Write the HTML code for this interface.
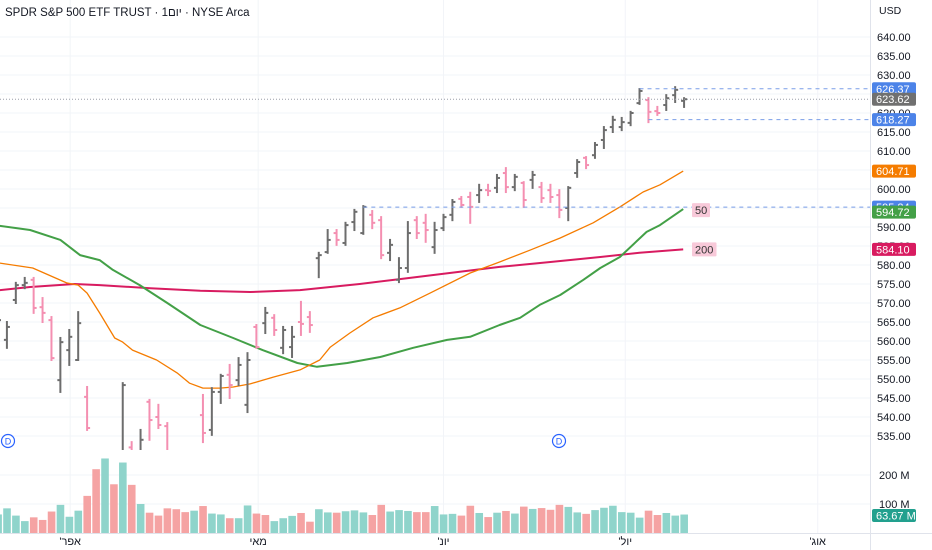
<!DOCTYPE html>
<html><head><meta charset="utf-8">
<style>
html,body{margin:0;padding:0;background:#fff;width:932px;height:550px;overflow:hidden;}
svg{display:block;font-family:"Liberation Sans","Noto Sans CJK JP",sans-serif;}
</style></head>
<body>
<svg id="chart" width="932" height="550" viewBox="0 0 932 550" xmlns="http://www.w3.org/2000/svg">
<defs>
<clipPath id="plotClip"><rect x="0" y="0" width="870" height="450"/></clipPath>
<clipPath id="volClip"><rect x="0" y="450" width="870" height="83"/></clipPath>
</defs>
<g id="grid"></g>
<g id="ma" clip-path="url(#plotClip)"></g>
<g id="bars" clip-path="url(#plotClip)"></g>
<g id="vol" clip-path="url(#volClip)"></g>
<g id="overlay"></g>
<g id="axis"></g>
<text x="5" y="16" font-size="11.5" fill="#131722">SPDR S&amp;P 500 ETF TRUST · 1יום · NYSE Arca</text>
</svg>
<script>
// ---- data ----
const opens =  [564.2,560.3,570.8,574.7,576.1,568.9,565.5,549.7,557.6,555.0,545.3,523,490,521,493,532,525,544.0,540.0,537.6,527,521,530,540.5,536.6,546.6,551.1,549.7,543.2,563.7,564.7,566.1,558.2,558.4,565.0,566.3,581.8,583.4,588.4,585.8,591.3,588.4,593.2,591.8,583.2,576.1,579.2,591.8,591.1,584.7,589.7,593.2,597.4,597.9,598.4,599.7,600.3,604.2,600.5,601.6,602.4,600.5,599.7,598.4,595.0,604.2,608.2,608.9,612.9,616.3,616.3,617.4,622.6,623.4,620.5,622.1,624.7,623.2];
const highs =  [570.8,565.0,575.3,576.6,576.6,571.3,566.3,560.8,562.9,567.6,547.9,525,524,524,548.9,533.4,536.6,544.5,543.2,538.4,530,530,531,545.8,547.6,551.1,553.7,555.5,556.8,564.2,568.7,566.8,563.7,563.7,570.3,567.6,583.2,589.2,589.2,591.1,594.5,595.5,594.2,592.6,586.6,581.8,591.3,592.6,593.2,591.1,593.2,597.1,597.9,599.0,601.1,601.1,603.7,605.5,603.7,601.8,604.5,601.6,601.1,599.7,600.5,607.6,608.4,612.1,616.3,619.0,618.7,620.3,626.3,623.9,621.6,624.7,626.8,623.9];
const lows =   [562.9,558.2,570.0,573.9,567.4,565.0,555.0,546.6,553.7,555.0,536.6,505,481,493,493,509,523,534.0,537.1,524,520,514,524,533.4,535.3,543.7,545.0,548.4,541.3,558.2,562.1,561.6,556.8,555.8,561.6,562.4,576.8,583.2,585.3,585.3,589.2,588.2,589.7,581.8,581.3,575.5,578.2,587.1,586.1,583.2,589.2,591.8,595.3,591.1,596.6,598.4,599.2,599.2,599.7,595.3,600.3,596.6,596.6,592.6,591.8,603.2,605.5,608.2,610.8,615.0,615.5,616.8,622.4,617.6,619.5,620.8,622.9,621.6];
const closes = [565.5,563.7,574.7,575.3,568.7,567.4,555.5,559.7,561.1,564.7,537.1,505,505,496,548.4,524,534,539.2,537.9,526,521,527,529,535.8,546.6,550.8,548.4,553.7,555.0,558.4,567.4,562.9,562.9,561.1,564.5,564.2,582.6,586.6,586.6,590.5,594.0,595.3,591.1,582.6,585.3,579.2,588.4,588.4,589.2,589.2,592.6,596.6,595.8,595.3,599.7,599.5,602.9,600.5,603.2,597.1,603.7,597.6,597.9,594.5,600.3,607.1,606.3,611.6,615.5,618.2,617.6,620.0,625.8,620.3,620.0,623.9,626.1,623.62];
const volumes = [64,85,60,41,54,45,74,97,56,77,128,220,257,168,243,166,100,70,60,85,82,72,77,93,67,64,51,51,95,67,62,41,51,59,69,39,82,71,70,75,78,71,62,97,74,79,76,72,72,93,64,66,60,94,69,55,70,76,67,91,83,86,80,97,90,71,66,79,87,94,72,70,53,77,62,69,60,63.67];
const volUp = [1,1,1,1,0,0,0,1,1,1,0,0,1,0,1,0,1,0,0,0,0,0,1,0,1,1,0,1,1,0,0,1,1,1,0,0,1,1,0,1,1,1,0,0,1,1,1,0,0,1,1,1,0,0,1,0,1,0,1,0,1,0,0,0,1,1,0,1,1,1,1,1,1,0,0,1,1,1];
const ma20Idx = [0.2,3.9,7.7,9.0,10,11.4,13.1,14,15.1,17.8,20.1,21.5,23,24.9,26.4,28.3,30.9,33.9,36.1,37.3,39.5,42.1,45.1,48.5,53,56.3,59.7,63.1,66.8,69.8,72.4,74.3,76.9];
const ma20Val = [580.5,579.2,575.3,574.7,572.6,567.4,560.8,559.7,557.6,555.0,551.6,548.9,547.6,547.6,547.9,548.7,550.5,552.4,555.0,558.4,562.1,566.1,568.7,572.6,577.9,580.8,583.9,587.1,591.1,595.3,599.2,601.1,604.71];
const ma50Idx = [0.2,3.6,7,9.2,11.4,12.9,15.9,19,22.7,26.4,29.7,33.6,35.8,39.2,42.9,46.6,50.4,53,56.3,58.6,60.8,63.1,65.7,67.6,69.8,72.8,74.3,76.9];
const ma50Val = [590.3,589.2,586.6,582.6,581.3,578.7,574.7,570.0,564.2,560.8,557.6,554.2,553.2,554.2,555.8,558.2,560.3,561.1,564.2,566.1,569.5,572.1,576.1,579.2,582.1,588.7,590.5,594.72];
const ma200Idx = [0.2,3.6,8.6,11.4,17.1,22.7,28.3,33.9,37.3,40.6,45.1,50.7,56.3,62,67.6,72,76.9];
const ma200Val = [573.4,574.2,575.0,574.7,573.9,573.2,572.9,573.4,574.2,575.0,576.3,577.9,579.5,580.8,582.1,583.2,584.10];
const priceTicks = [640,635,630,625,620,615,610,605,600,595,590,585,580,575,570,565,560,555,550,545,540,535];
const monthLabels = ["אפר'","מאי","יונ'","יול'","אוג'"];
const monthIdx = [8.1,29.2,50,70.4,92];
const volTicks = [200,100];

// ---- scales ----
const y = p => 75 + (630 - p) * 3.8;
const x = i => -2 + 8.91 * i;
const yv = v => 533 - v * 0.29;
const NS = "http://www.w3.org/2000/svg";
function mk(tag, attrs, parent){const e=document.createElementNS(NS,tag);for(const k in attrs)e.setAttribute(k,attrs[k]);parent.appendChild(e);return e;}

const grid=document.getElementById('grid'), bars=document.getElementById('bars'), vol=document.getElementById('vol'),
      ma=document.getElementById('ma'), ov=document.getElementById('overlay'), ax=document.getElementById('axis');

priceTicks.forEach(p=>{ if(y(p)<450){const l=mk('line',{x1:0,x2:870,y1:y(p),y2:y(p),stroke:'#f2f4f8','stroke-width':1},grid);

}});
monthIdx.forEach(i=>{const l=mk('line',{x1:x(i),x2:x(i),y1:0,y2:533,stroke:'#f2f4f8','stroke-width':1},grid);

});
volTicks.forEach(v=>{const l=mk('line',{x1:0,x2:870,y1:yv(v),y2:yv(v),stroke:'#f2f4f8'},grid);

});

function line(idx,val,color,w,name){const d=idx.map((i,k)=>(k?'L':'M')+x(i).toFixed(1)+' '+y(val[k]).toFixed(1)).join(' ');
const p=mk('path',{d:d,fill:'none',stroke:color,'stroke-width':w,'stroke-linejoin':'round'},ma);

}
line(ma200Idx,ma200Val,'#d81b60',2,'ma-200-line');
line(ma50Idx,ma50Val,'#43a047',2,'ma-50-line');
line(ma20Idx,ma20Val,'#f57c00',1.3,'ma-20-line');

opens.forEach((o,i)=>{const c=closes[i]>=o?'#6d6d6d':'#f48fb1';const cx=x(i);
const g=mk('g',{stroke:c,'stroke-width':2},bars);


mk('line',{x1:cx,x2:cx,y1:y(highs[i])-1,y2:y(lows[i])+1},g);
mk('line',{x1:cx-3,x2:cx,y1:y(o),y2:y(o)},g);
mk('line',{x1:cx,x2:cx+3,y1:y(closes[i]),y2:y(closes[i])},g);});

volumes.forEach((v,i)=>{const r=mk('rect',{x:x(i)-3.7,y:yv(v),width:7.6,height:533-yv(v),fill:volUp[i]?'#8fd4cb':'#f5a3a3'},vol);

});

const last=closes[closes.length-1];
function dash(x1,yy,color,da,name){const l=mk('line',{x1:x1,x2:870,y1:yy,y2:yy,stroke:color,'stroke-width':1,'stroke-dasharray':da},ov);

}
dash(0,y(last),'#9a9ea8','1 2','last-price-line');
dash(x(72),y(626.37),'#7a9ee8','4 4','high-line');
dash(x(73),y(618.27),'#7a9ee8','4 4','low-line');
dash(x(41),y(595.24),'#7a9ee8','4 4','level-line');
function chip(xx,yy,t,name){const g=mk('g',{},ov);


mk('rect',{x:xx,y:yy-7,width:t.length*6.5+5,height:14,fill:'#f8c9d9',rx:1},g);
const tx=mk('text',{x:xx+3,y:yy+4,'font-size':11,fill:'#333'},g);tx.textContent=t;}
chip(692,y(595.24)+3,'50','ma-50-label');
chip(692,y(584.10),'200','ma-200-label');
[[8,441],[559,441]].forEach(([cx,cy])=>{const g=mk('g',{},ov);


mk('circle',{cx:cx,cy:cy,r:6.5,fill:'#fff',stroke:'#2962ff','stroke-width':1.2},g);
const t=mk('text',{x:cx,y:cy+3.5,'font-size':9,fill:'#2962ff','text-anchor':'middle'},g);t.textContent='D';});

const sep=mk('line',{x1:870.5,x2:870.5,y1:0,y2:550,stroke:'#e0e3eb'},ax);


const tb=mk('line',{x1:0,x2:932,y1:533.5,y2:533.5,stroke:'#e0e3eb'},ax);


const usd=mk('text',{x:879,y:14,'font-size':10.5,fill:'#131722'},ax);usd.textContent='USD';


priceTicks.forEach(p=>{const yy=y(p);if(yy<25||yy>450)return;const t=mk('text',{x:877,y:yy+4,'font-size':11,fill:'#131722'},ax);t.textContent=p.toFixed(2);

});
volTicks.forEach(v=>{const t=mk('text',{x:879,y:yv(v)+4,'font-size':11,fill:'#131722'},ax);t.textContent=v+' M';

});
monthLabels.forEach((m,k)=>{const t=mk('text',{x:x(monthIdx[k]),y:545,'font-size':11,fill:'#131722','text-anchor':'middle',direction:'rtl'},ax);t.textContent=m;

});
function tag(p,yy,color,name){const g=mk('g',{},ax);


mk('rect',{x:872,y:yy-6.5,width:44,height:13,fill:color,rx:2},g);
const t=mk('text',{x:876,y:yy+4,'font-size':11,fill:'#fff'},g);t.textContent=p;}
tag('626.37',y(626.37),'#4c83e8','high-price-tag');
tag(last.toFixed(2),y(last),'#707070','last-price-tag');
tag('618.27',y(618.27),'#4c83e8','low-price-tag');
tag('604.71',y(604.71),'#f57c00','ma-20-tag');
tag('595.24',y(595.24),'#4c83e8','level-tag');
tag('594.72',y(594.72)+3,'#43a047','ma-50-tag');
tag('584.10',y(584.10),'#d81b60','ma-200-tag');
tag('63.67 M',yv(63.67)+1,'#22a08e','volume-tag');
</script>
</body></html>
